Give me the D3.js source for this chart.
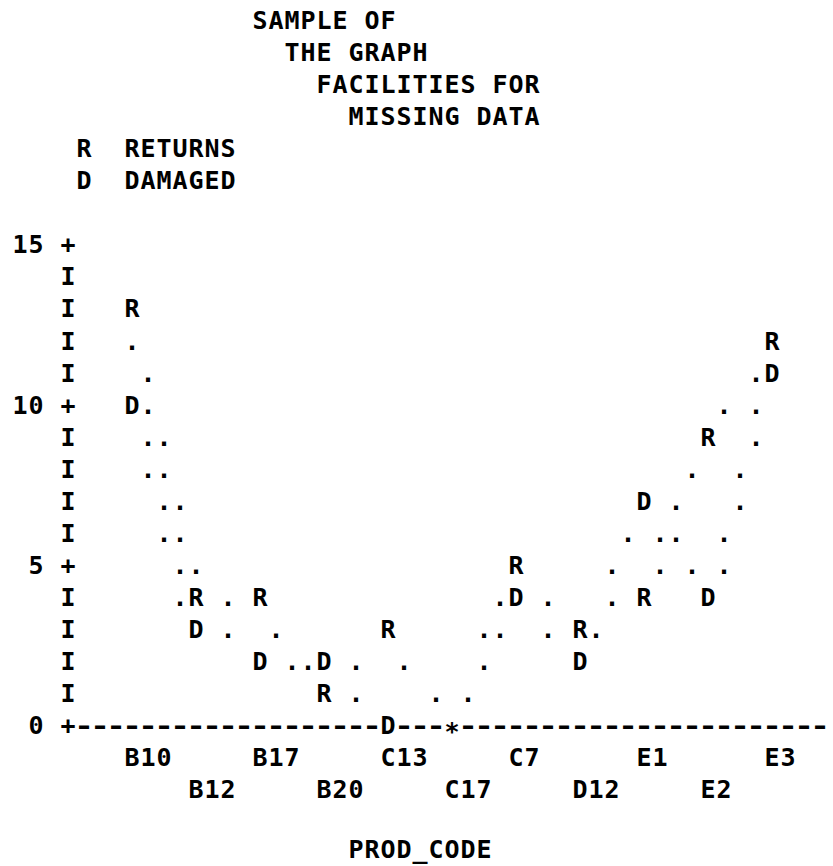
<!DOCTYPE html>
<html><head><meta charset="utf-8">
<script src="https://cdn.jsdelivr.net/npm/d3@7"></script>
<style>html,body{margin:0;padding:0;background:#fff;} svg{display:block}</style>
</head><body>
<svg id="chart" width="833" height="866"></svg>
<script>
// ---- data ----
const categories = ["B10","B12","B17","B20","C13","C17","C7","D12","E1","E2","E3"];
const returns    = [13, 4, 4, 1, 3, 0, 5, 3, 4, 9, 12];
const damaged    = [10, 3, 2, 2, 0, 0, 4, 2, 7, 4, 11];
const yTicks = [0, 5, 10, 15];
const titleLines = ["SAMPLE OF", "THE GRAPH", "FACILITIES FOR", "MISSING DATA"];
const legendSymbols = ["R", "D"];
const legendLabels = ["RETURNS", "DAMAGED"];
const xTitle = "PROD_CODE";

// ---- layout (character grid of a line-printer plot) ----
const FONT = "'DejaVu Sans Mono', 'Liberation Mono', monospace";
const FS = 25, BASE = 9, DASH_STRETCH = 1.3;
const px = d3.scaleLinear().domain([0, 1]).range([20, 36]);      // column -> pixel centre
const py = d3.scaleLinear().domain([0, 1]).range([20, 52.05]);   // line -> pixel centre
const colScale = d3.scalePoint().domain(categories).range([7, 47]);      // category -> column
const lineScale = d3.scaleLinear().domain([0, 15]).range([22, 7]);       // value -> line
const axisCol = 3, axisEndCol = 50;
const titleCols = [15, 17, 19, 21];

const svg = d3.select("#chart");
svg.append("rect").attr("width", 833).attr("height", 866).attr("fill", "#fff");
const g = svg.append("g")
  .attr("font-family", FONT).attr("font-size", FS).attr("font-weight", "bold")
  .attr("fill", "#000").attr("text-anchor", "middle");

function drawString(str, col, line, base) {
  const chars = Array.from(str);
  const xs = chars.map((ch, i) => px(col + i));
  g.append("text")
    .attr("x", xs.join(" "))
    .attr("y", py(line) + (base === undefined ? BASE : base))
    .attr("xml:space", "preserve")
    .text(str);
}

// titles
titleLines.forEach((t, i) => drawString(t, titleCols[i], i));
// legend
const series = [
  { sym: legendSymbols[0], label: legendLabels[0], values: returns },
  { sym: legendSymbols[1], label: legendLabels[1], values: damaged }
];
series.forEach((s, i) => {
  drawString(s.sym, 4, 4 + i);
  drawString(s.label, 7, 4 + i);
});

// ---- plot cells ----
const cells = new Map();
function setCell(c, l, ch, prio) {
  const k = c + "," + l;
  const cur = cells.get(k);
  if (!cur || cur.prio < prio) cells.set(k, { c, l, ch, prio });
  else if (cur.prio === 3 && prio === 3 && cur.ch !== ch) cur.ch = "*";
}

// connecting dots
series.forEach(s => {
  for (let i = 0; i < categories.length - 1; i++) {
    const c0 = colScale(categories[i]), c1 = colScale(categories[i + 1]);
    const v0 = s.values[i], v1 = s.values[i + 1];
    const dc = c1 - c0, dv = v1 - v0;
    const steps = Math.max(Math.abs(dv), Math.ceil(Math.abs(dc) / 2));
    for (let k = 1; k < steps; k++) {
      const c = Math.round(c0 + dc * k / steps);
      const v = Math.round(v0 + dv * k / steps);
      setCell(c, lineScale(v), ".", 1);
    }
  }
});

// axes
const zeroLine = lineScale(0);
for (let l = lineScale(15); l <= zeroLine; l++) {
  const isTick = yTicks.some(t => lineScale(t) === l);
  setCell(axisCol, l, isTick ? "+" : "I", 2);
}
for (let c = axisCol + 1; c <= axisEndCol; c++) setCell(c, zeroLine, "-", 2);

// points
series.forEach(s => {
  s.values.forEach((v, i) => setCell(colScale(categories[i]), lineScale(v), s.sym, 3));
});

const all = Array.from(cells.values());
g.selectAll("text.cell")
  .data(all.filter(d => d.ch !== "-"))
  .join("text")
  .attr("class", "cell")
  .attr("x", d => px(d.c))
  .attr("y", d => py(d.l) + BASE + (d.ch === "*" ? 6 : 0))
  .text(d => d.ch);

// axis dashes: contiguous runs, each one text
const dashCols = all.filter(d => d.ch === "-").map(d => d.c).sort((a, b) => a - b);
const runs = [];
dashCols.forEach(c => {
  const last = runs[runs.length - 1];
  if (last && last[last.length - 1] === c - 1) last.push(c); else runs.push([c]);
});
g.selectAll("text.dash")
  .data(runs)
  .join("text")
  .attr("class", "dash")
  .attr("transform", `scale(${DASH_STRETCH},1)`)
  .attr("x", r => r.map(c => px(c) / DASH_STRETCH).join(" "))
  .attr("y", py(zeroLine) + BASE)
  .text(r => "-".repeat(r.length));

// y tick labels
yTicks.forEach(t => {
  const s = String(t);
  drawString(s, axisCol - 1 - s.length, lineScale(t));
});

// x tick labels (alternating rows)
categories.forEach((c, i) => drawString(c, colScale(c), zeroLine + 1 + (i % 2)));

// x axis title
drawString(xTitle, 21, zeroLine + 4, 5);
</script>
</body></html>
